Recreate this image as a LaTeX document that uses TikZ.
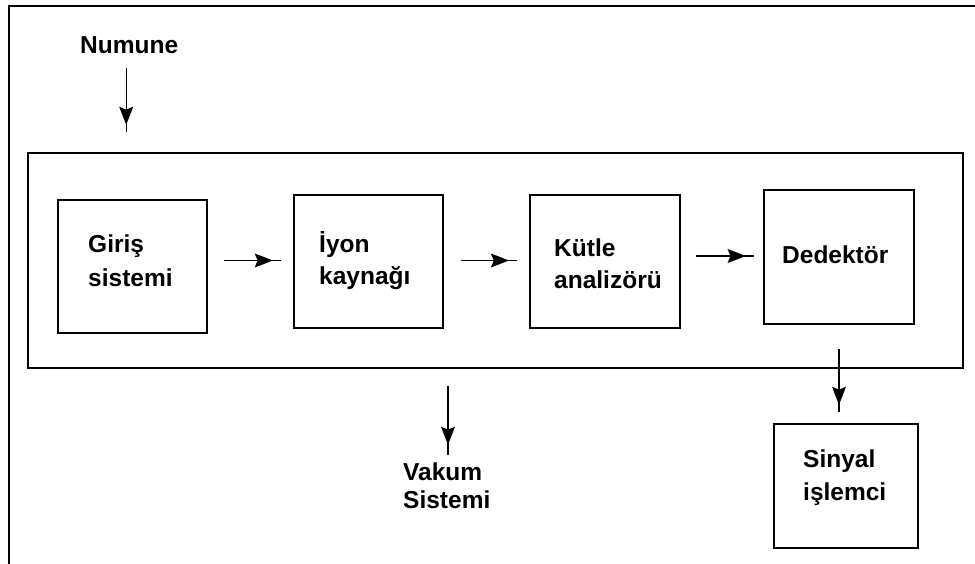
\documentclass[tikz,border=0pt]{standalone}
\usepackage{fontspec}
\setmainfont{Liberation Sans}
\usetikzlibrary{calc,arrows.meta,decorations.markings}
\begin{document}
\begin{tikzpicture}[x=1pt,y=-1pt,
  lbl/.style={anchor=base west,inner sep=0,font=\fontsize{24.5}{28}\selectfont\bfseries},
  conn/.style={line width=1.2pt,postaction={decorate},
    decoration={markings,mark=at position #1 with {\fill (0pt,0pt) -- (-10pt,-4pt) -- (-18pt,-7pt) -- (-15pt,0pt) -- (-18pt,7pt) -- (-10pt,4pt) -- cycle;}}}
]
\useasboundingbox (0,0) rectangle (975,564);
% outer frame
\draw[line width=2pt] (9,564) -- (9,6) -- (975,6);
% main box
\node[draw,line width=1.4pt,inner sep=0,minimum width=935pt,minimum height=215pt] (main) at (495.5,260.5) {};
% boxes
\node[draw,line width=1.4pt,inner sep=0,minimum width=149pt,minimum height=133pt] (giris) at (132.5,266.5) {};
\node[draw,line width=1.4pt,inner sep=0,minimum width=149pt,minimum height=133pt] (iyon) at (368.5,261.5) {};
\node[draw,line width=1.4pt,inner sep=0,minimum width=150pt,minimum height=133pt] (kutle) at (605,261.5) {};
\node[draw,line width=1.4pt,inner sep=0,minimum width=150pt,minimum height=134pt] (ded) at (839,257) {};
\node[draw,line width=1.4pt,inner sep=0,minimum width=144pt,minimum height=124pt] (sinyal) at (846,486) {};
% texts
\node[lbl] (numune) at (80,54) {Numune};
\node[lbl] (g1) at (88,253) {Giriş};
\node[lbl] (g2) at (88,287) {sistemi};
\node[lbl] (i1) at (319,253) {İyon};
\node[lbl] (i2) at (319,284) {kaynağı};
\node[lbl] (k1) at (554,257) {Kütle};
\node[lbl] (k2) at (554,289) {analizörü};
\node[lbl] (d1) at (782,264) {Dedektör};
\node[lbl] (v1) at (403,480) {Vakum};
\node[lbl] (v2) at (403,508) {Sistemi};
\node[lbl] (s1) at (803,467) {Sinyal};
\node[lbl] (s2) at (803,500) {işlemci};
% connectors
\draw[conn=0.88] ($(numune.south)+(-3,14)$) -- ($(numune.south |- main.north)+(-3,-20)$);
\draw[conn=0.85] ($(giris.east |- iyon.west)+(16,-1)$) -- ($(iyon.west)+(-12,-1)$);
\draw[conn=0.85] ($(iyon.east)+(17,-1)$) -- ($(kutle.west)+(-12,-1)$);
\draw[conn=0.85] ($(kutle.east |- ded.west)+(15,-1)$) -- ($(ded.west)+(-9,-1)$);
\draw[conn=0.88] ($(ded.south)+(0,24)$) -- ($(ded.south |- sinyal.north)+(0,-11)$);
\draw[conn=0.85] ($(main.south -| 448,0)+(0,17)$) -- ($(v1.north -| 448,0)+(0,-7)$);
\end{tikzpicture}
\end{document}
